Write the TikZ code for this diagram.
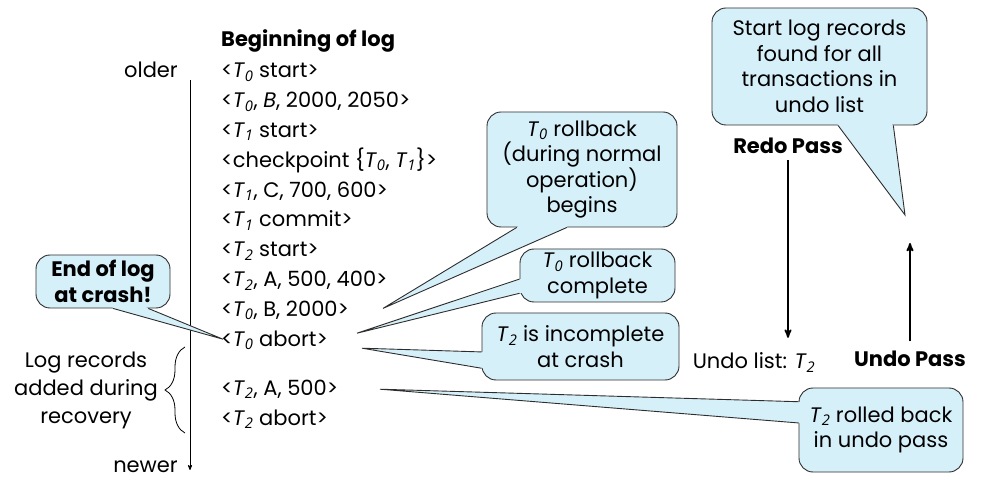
\documentclass[tikz,border=0pt]{standalone}
\usepackage{fontspec}
\setmainfont{Poppins}
\newfontfamily\subfont{Open Sans}
\usepackage{tikz}
\usetikzlibrary{arrows}
\usetikzlibrary{positioning}
\usetikzlibrary{calc}
\usetikzlibrary{decorations.pathreplacing}

\definecolor{callfill}{RGB}{214,240,250}
\definecolor{callline}{RGB}{45,45,45}
\newcommand\diagfont{\fontsize{21}{25.5}\selectfont}
\newcommand\Tsub[1]{\textit{T}\textsubscript{\subfont\itshape #1}}
% #1 box, #2 and #3 base points, #4 tip
\newcommand\pointer[4]{%
  \fill[callfill] (#2) -- (#4) -- (#3) -- ($(#3)!2.5pt!(#1.center)$) -- ($(#2)!2.5pt!(#1.center)$) -- cycle;
  \draw[callline, line width=0.9pt] (#2) -- (#4) -- (#3);}

\begin{document}
\begin{tikzpicture}[x=1pt,y=-1pt,>=stealth', every node/.append style={inner sep=0pt,font=\diagfont},
                    logline/.style={anchor=base west},
                    boldtext/.style={font=\diagfont\bfseries},
                    callbox/.style={draw=callline,fill=callfill,line width=0.9pt,rounded corners=14pt,align=center},
                    passarrow/.style={->,line width=1.8pt}]
\useasboundingbox (0,0) rectangle (988,502);

% the log
\node [boldtext, anchor=base west] (begin) at (221,47) {Beginning of log};
\node [logline] (l0) at (221,78) {<\Tsub{0} start>};
\node [below=29.8pt of l0.base west, logline] (l1) {<\Tsub{0}, \textit{B}, 2000, 2050>};
\node [below=29.8pt of l1.base west, logline] (l2) {<\Tsub{1} start>};
\node [below=29.8pt of l2.base west, logline] (l3) {<checkpoint \{\Tsub{0}, \Tsub{1}\}>};
\node [below=29.8pt of l3.base west, logline] (l4) {<\Tsub{1}, C, 700, 600>};
\node [below=29.8pt of l4.base west, logline] (l5) {<\Tsub{1} commit>};
\node [below=29.8pt of l5.base west, logline] (l6) {<\Tsub{2} start>};
\node [below=29.8pt of l6.base west, logline] (l7) {<\Tsub{2}, A, 500, 400>};
\node [below=29.8pt of l7.base west, logline] (l8) {<\Tsub{0}, B, 2000>};
\node [below=29.8pt of l8.base west, logline] (l9) {<\Tsub{0} abort>};
\node [below=49pt of l9.base west, logline] (l10) {<\Tsub{2}, A, 500>};
\node [below=30pt of l10.base west, logline] (l11) {<\Tsub{2} abort>};

% time axis
\node [anchor=base east] (older) at (178,78) {older};
\node [anchor=base east] (newer) at (178,472) {newer};
\coordinate (ttop) at (190,80);
\coordinate (tbot) at (190,470);
\draw [->,line width=0.8pt] (ttop) -- (tbot);
\coordinate (bbot) at (185,433);
\coordinate (btop) at (185,347);
\draw [line width=0.8pt,decorate,decoration={brace,amplitude=20pt}] (bbot) -- (btop);
\node [align=center,font=\fontsize{21}{28}\selectfont] (added) at (86,390) {Log records\\added during\\recovery};

% passes
\node [boldtext, anchor=base] (redo) at (788,154) {Redo Pass};
\node [anchor=base] (undolist) at (754,369) {Undo list: \Tsub{2}};
\node [boldtext, anchor=base] (undo) at (910,367) {Undo Pass};
\coordinate (undoend) at (908,243);
\coordinate (undotip) at (905,215);
\draw [passarrow,shorten <=6pt,shorten >=15pt] (redo.south) -- (redo.south |- undolist.north);
\draw [passarrow,shorten <=10pt] (undo.north) -- (undo.north |- undoend);

% callouts
\node [callbox,boldtext,minimum width=134,minimum height=53] (crash) at (103,281.5) {End of log\\at crash!};
\node [callbox,minimum width=190,minimum height=115] (rb) at (582,169.5) {\Tsub{0} rollback\\(during normal\\operation)\\begins};
\node [callbox,minimum width=155,minimum height=53] (rbdone) at (597.5,275.5) {\Tsub{0} rollback\\complete};
\node [callbox,minimum width=197,minimum height=67] (incomp) at (580.5,346.5) {\Tsub{2} is incomplete\\at crash};
\node [callbox,minimum width=164,minimum height=84] (rolled) at (881,430) {\Tsub{2} rolled back\\in undo pass};
\node [callbox,minimum width=215,minimum height=117] (startrec) at (819.5,66.5) {Start log records\\found for all\\transactions in\\undo list};

\pointer{crash}{$(crash.south west)!0.575!(crash.south east)$}{$(crash.south west)!0.836!(crash.south east)$}{$(l9.base west)+(2,-7)$}
\pointer{rb}{$(rb.south west)!0.158!(rb.south east)$}{$(rb.south west)!0.421!(rb.south east)$}{$(l8.base west)+(162,-8)$}
\pointer{rbdone}{$(rbdone.north west)!0.566!(rbdone.south west)$}{$(rbdone.north west)!0.83!(rbdone.south west)$}{$(l9.base west)+(136,-13)$}
\pointer{incomp}{$(incomp.north west)!0.58!(incomp.south west)$}{$(incomp.north west)!0.82!(incomp.south west)$}{$(l9.base west)+(141,2)$}
\pointer{rolled}{$(rolled.north west)!0.167!(rolled.south west)$}{$(rolled.north west)!0.417!(rolled.south west)$}{$(l10.base west)+(159,-6)$}
\pointer{startrec}{$(startrec.south west)!0.586!(startrec.south east)$}{$(startrec.south west)!0.842!(startrec.south east)$}{undotip}

\end{tikzpicture}
\end{document}
